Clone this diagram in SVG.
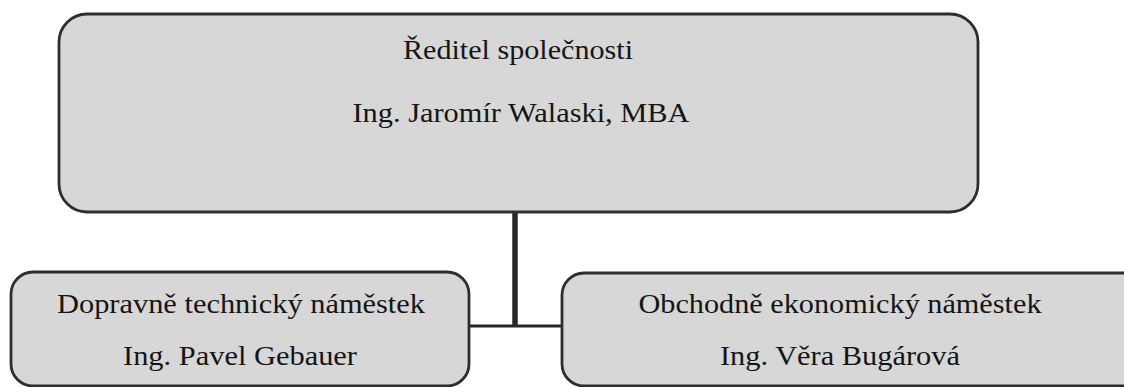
<svg xmlns="http://www.w3.org/2000/svg" width="1124" height="387" viewBox="0 0 1124 387">
<style>
.box{fill:#d7d7d7;stroke:#2e2e2e;stroke-width:2.8}
.t{font-family:"Liberation Serif","Times New Roman",serif;font-size:28px;fill:#151515;text-anchor:middle}
.c{stroke:#262626;fill:none}
</style>
<rect width="1124" height="387" fill="#ffffff"/>
<g id="connectors">
<line class="c" x1="515" y1="212" x2="515" y2="326" stroke-width="5.5"/>
<line class="c" x1="469" y1="326" x2="562" y2="326" stroke-width="3"/>
</g>
<g id="director">
<rect class="box" x="59" y="14" width="919" height="198" rx="28"/>
<text class="t" x="518" y="59" textLength="230" lengthAdjust="spacingAndGlyphs">Ředitel společnosti</text>
<text class="t" x="521" y="122" textLength="337" lengthAdjust="spacingAndGlyphs">Ing. Jaromír Walaski, MBA</text>
</g>
<g id="technical-deputy">
<rect class="box" x="11" y="272" width="458" height="114" rx="22"/>
<text class="t" x="241" y="313" textLength="368" lengthAdjust="spacingAndGlyphs">Dopravně technický náměstek</text>
<text class="t" x="240" y="365" textLength="234" lengthAdjust="spacingAndGlyphs">Ing. Pavel Gebauer</text>
</g>
<g id="commercial-deputy">
<rect class="box" x="562" y="273" width="590" height="113" rx="22"/>
<text class="t" x="840" y="313" textLength="403" lengthAdjust="spacingAndGlyphs">Obchodně ekonomický náměstek</text>
<text class="t" x="840" y="365" textLength="240" lengthAdjust="spacingAndGlyphs">Ing. Věra Bugárová</text>
</g>
</svg>
